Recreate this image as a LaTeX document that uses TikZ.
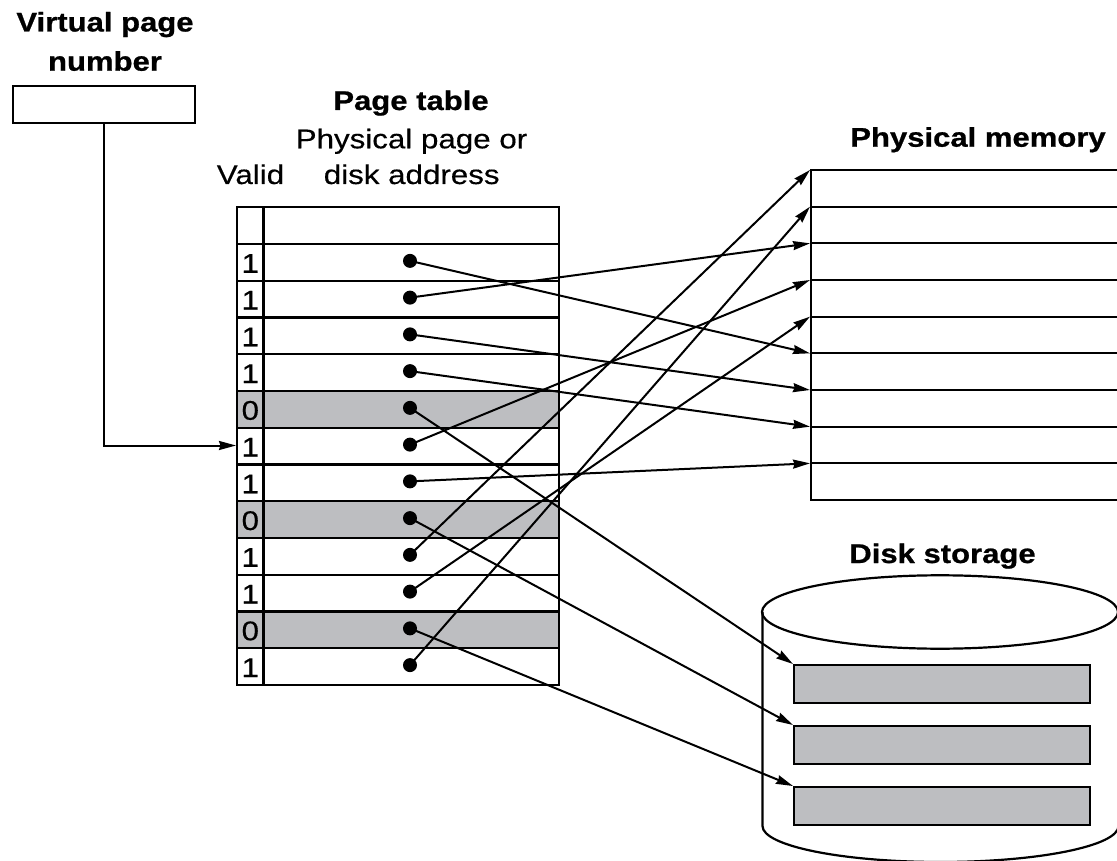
\documentclass[tikz,border=0pt]{standalone}
\usepackage{fontspec}
\setmainfont{Liberation Sans}
\newfontfamily\regf[FakeStretch=1.16,FakeBold=0.4]{Liberation Sans}
\newfontfamily\boldf[FakeStretch=1.15,FakeBold=0.8]{Liberation Sans}
\usetikzlibrary{arrows.meta}
\definecolor{cellgray}{RGB}{189,190,193}
\tikzset{
 lbl/.style={font=\regf\fontsize{27}{32}\selectfont, inner sep=0pt, anchor=base},
 ttl/.style={font=\boldf\bfseries\fontsize{27}{32}\selectfont, inner sep=0pt, anchor=base},
 dot/.style={circle, fill=black, inner sep=0pt, minimum size=14pt},
 arr/.style={line width=2pt, -{Stealth[length=17pt,width=9pt,inset=1.5pt]}},
 frame/.style={line width=2.2pt},
 slot/.style={draw, line width=2pt, fill=cellgray, minimum width=296pt, minimum height=38pt, inner sep=0pt, anchor=north west},
}
\begin{document}
\begin{tikzpicture}[x=1pt,y=1pt]
\useasboundingbox (0,0) rectangle (1117,-861);
% labels
\node[ttl] (t1) at (105,-31.5) {Virtual page};
\node[ttl] (t2) at (105,-70.7) {number};
\node[ttl] (t3) at (411,-110) {Page table};
\node[lbl] (t4) at (411.5,-148.3) {Physical page or};
\node[lbl] (t5) at (411.7,-184) {disk address};
\node[lbl] (t6) at (250.5,-184) {Valid};
\node[ttl] (t7) at (978,-146.7) {Physical memory};
\node[ttl] (t8) at (942.5,-563) {Disk storage};
% virtual page number box
\node[draw, frame, minimum width=182pt, minimum height=37pt, inner sep=0pt] (vpn) at (104.2,-104.7) {};
% page table
\foreach \r in {5,8,11} \fill[cellgray] (237,{-244-(\r-1)*36.75}) rectangle (559,{-244-\r*36.75});
\draw[frame] (237,-207.3) rectangle (559,-685);
\draw[frame] (263.5,-207.3) -- (263.5,-685);
\foreach \r in {0,...,11} \draw[frame] (237,{-244-\r*36.75}) -- (559,{-244-\r*36.75});
\foreach \v [count=\r] in {1,1,1,1,0,1,1,0,1,1,0,1}
  \node[lbl] (v\r) at (250.3,{-244-\r*36.75+8}) {\v};
\foreach \r in {1,...,12} \node[dot] (d\r) at (410,{-244-(\r-0.5)*36.75+1.5}) {};
\coordinate (in6) at (236,-445.5);
\draw[arr] (vpn.south) |- (in6);
% physical memory
\draw[frame] (811,-170) rectangle (1130,-500);
\foreach \k in {1,...,8} \draw[frame] (811,{-170-\k*36.667}) -- (1130,{-170-\k*36.667});
\foreach \k in {0,...,9} \coordinate (m\k) at (810,{-170-\k*36.667});
% disk storage
\draw[frame] (940,-612) ellipse [x radius=178, y radius=36.7];
\draw[frame] (762.5,-612) -- (762.5,-826) arc[start angle=180,end angle=360,x radius=178,y radius=36] -- (1118.5,-612);
\node[slot] (s1) at (793,-664) {};
\node[slot] (s2) at (793,-725) {};
\node[slot] (s3) at (793,-786) {};
% mappings
\draw[arr] (d1.center) -- (m5);
\draw[arr] (d2.center) -- (m2);
\draw[arr] (d3.center) -- (m6);
\draw[arr] (d4.center) -- (m7);
\draw[arr] (d5.center) -- (s1.north west);
\draw[arr] (d6.center) -- (m3);
\draw[arr] (d7.center) -- (m8);
\draw[arr] (d8.center) -- (s2.north west);
\draw[arr] (d9.center) -- (m0);
\draw[arr] (d10.center) -- (m4);
\draw[arr] (d11.center) -- (s3.north west);
\draw[arr] (d12.center) -- (m1);
\end{tikzpicture}
\end{document}
